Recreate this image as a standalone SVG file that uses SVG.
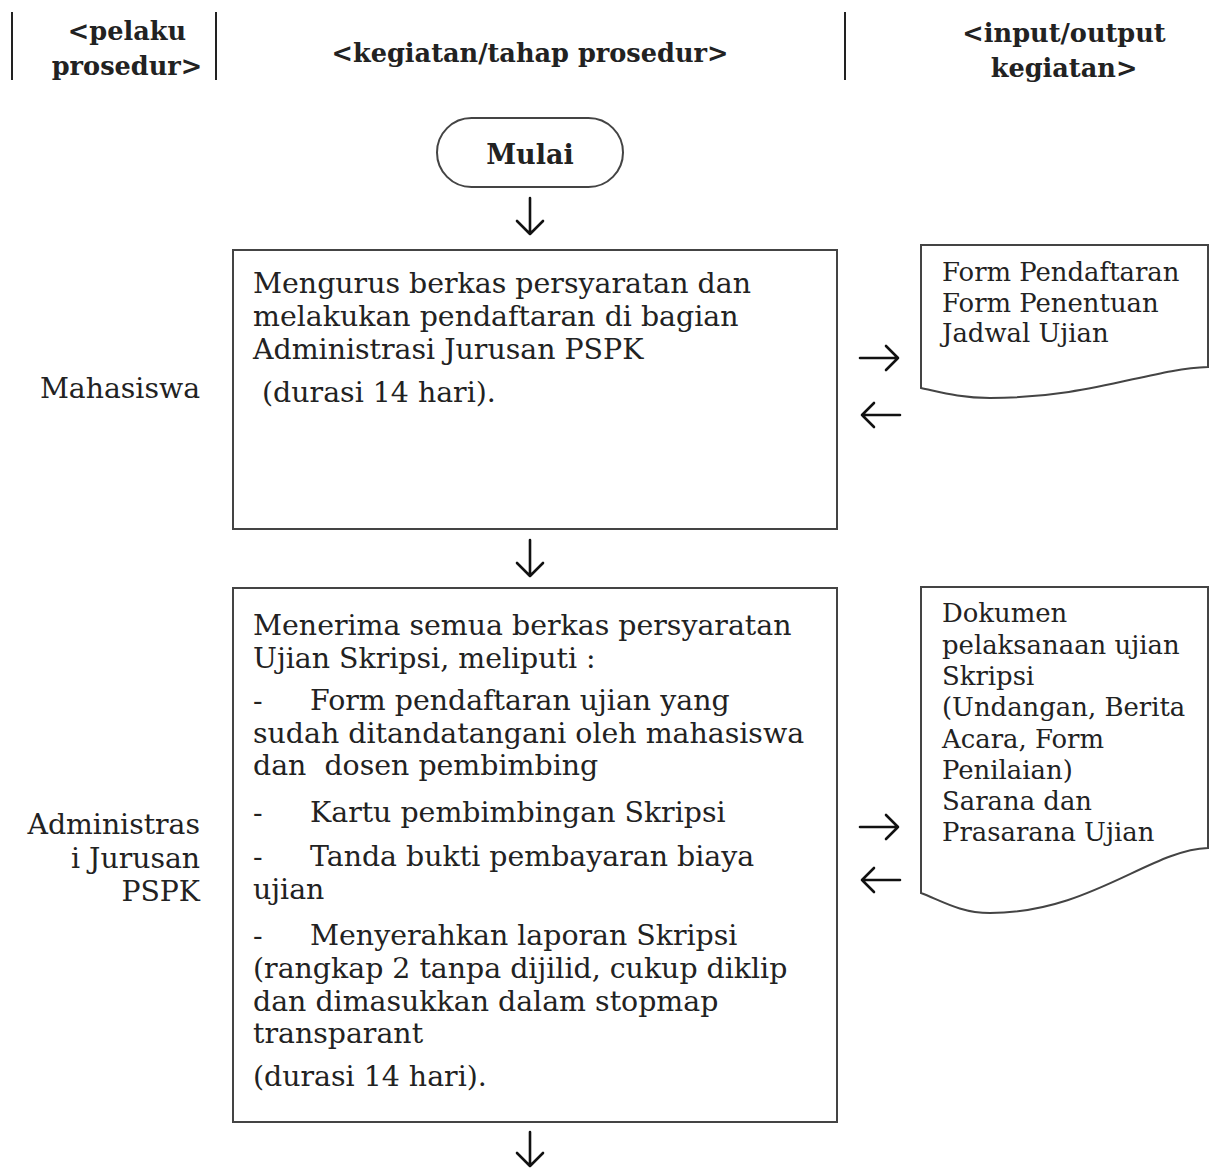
<svg xmlns="http://www.w3.org/2000/svg" width="1219" height="1169" viewBox="0 0 1219 1169">
<style>
text{font-family:"DejaVu Serif","Liberation Serif",serif;fill:#222;}
.hd{font-weight:bold;font-size:25.6px;}
.mu{font-weight:bold;font-size:27px;}
.tx{font-size:28.4px;white-space:pre;}
.dt{font-size:25.9px;}
.lb{font-size:28.3px;}
.box{fill:#fff;stroke:#444;stroke-width:2;}
.sep{stroke:#222;stroke-width:2;}
.arr{fill:none;stroke:#111;stroke-width:2.6;stroke-linecap:round;stroke-linejoin:round;}
</style>
<rect width="1219" height="1169" fill="#fff"/>
<g id="header">
<line class="sep" x1="12" y1="12" x2="12" y2="80"/>
<line class="sep" x1="216" y1="12" x2="216" y2="80"/>
<line class="sep" x1="845" y1="12" x2="845" y2="80"/>
<text class="hd" x="127" y="40" text-anchor="middle">&lt;pelaku</text>
<text class="hd" x="127" y="75" text-anchor="middle">prosedur&gt;</text>
<text class="hd" x="530" y="62" text-anchor="middle">&lt;kegiatan/tahap prosedur&gt;</text>
<text class="hd" x="1064" y="42" text-anchor="middle">&lt;input/output</text>
<text class="hd" x="1064" y="77" text-anchor="middle">kegiatan&gt;</text>
</g>
<g id="lanes">
<text class="lb" x="200" y="398" text-anchor="end">Mahasiswa</text>
<text class="lb" x="200" y="834" text-anchor="end">Administras</text>
<text class="lb" x="200" y="868" text-anchor="end">i Jurusan</text>
<text class="lb" x="200" y="901" text-anchor="end">PSPK</text>
</g>
<g id="mulai">
<rect class="box" x="437" y="118" width="186" height="69" rx="34.5"/>
<text class="mu" x="530" y="164" text-anchor="middle">Mulai</text>
</g>
<g id="step1">
<rect class="box" x="233" y="250" width="604" height="279"/>
<text class="tx" x="253" y="293">Mengurus berkas persyaratan dan</text>
<text class="tx" x="253" y="326">melakukan pendaftaran di bagian</text>
<text class="tx" x="253" y="359">Administrasi Jurusan PSPK</text>
<text class="tx" x="253" y="402"> (durasi 14 hari).</text>
</g>
<g id="doc1">
<path class="box" d="M921,245 H1208 V367 C1150,369 1090,398 990,398 C960,398 940,392 921,388 Z"/>
<text class="dt" x="942" y="281">Form Pendaftaran</text>
<text class="dt" x="942" y="312">Form Penentuan</text>
<text class="dt" x="942" y="342">Jadwal Ujian</text>
</g>
<g id="step2">
<rect class="box" x="233" y="588" width="604" height="534"/>
<text class="tx" x="253" y="635">Menerima semua berkas persyaratan</text>
<text class="tx" x="253" y="668">Ujian Skripsi, meliputi :</text>
<text class="tx" x="253" y="710">-</text><text class="tx" x="310" y="710">Form pendaftaran ujian yang</text>
<text class="tx" x="253" y="743">sudah ditandatangani oleh mahasiswa</text>
<text class="tx" x="253" y="775">dan  dosen pembimbing</text>
<text class="tx" x="253" y="822">-</text><text class="tx" x="310" y="822">Kartu pembimbingan Skripsi</text>
<text class="tx" x="253" y="866">-</text><text class="tx" x="310" y="866">Tanda bukti pembayaran biaya</text>
<text class="tx" x="253" y="899">ujian</text>
<text class="tx" x="253" y="945">-</text><text class="tx" x="310" y="945">Menyerahkan laporan Skripsi</text>
<text class="tx" x="253" y="978">(rangkap 2 tanpa dijilid, cukup diklip</text>
<text class="tx" x="253" y="1011">dan dimasukkan dalam stopmap</text>
<text class="tx" x="253" y="1043">transparant</text>
<text class="tx" x="253" y="1086">(durasi 14 hari).</text>
</g>
<g id="doc2">
<path class="box" d="M921,587 H1208 V848 C1150,850 1090,913 990,913 C960,913 940,900 921,893 Z"/>
<text class="dt" x="942" y="622">Dokumen</text>
<text class="dt" x="942" y="654">pelaksanaan ujian</text>
<text class="dt" x="942" y="685">Skripsi</text>
<text class="dt" x="942" y="716">(Undangan, Berita</text>
<text class="dt" x="942" y="748">Acara, Form</text>
<text class="dt" x="942" y="779">Penilaian)</text>
<text class="dt" x="942" y="810">Sarana dan</text>
<text class="dt" x="942" y="841">Prasarana Ujian</text>
</g>
<g id="connectors">
<path class="arr" d="M530,198 V234 M517,221 L530,234 L543,221"/>
<path class="arr" d="M530,540 V576 M517,563 L530,576 L543,563"/>
<path class="arr" d="M530,1132 V1166 M517,1153 L530,1166 L543,1153"/>
<path class="arr" d="M860,358 H898 M886,346 L898,358 L886,370"/>
<path class="arr" d="M900,415 H862 M874,403 L862,415 L874,427"/>
<path class="arr" d="M860,827 H898 M886,815 L898,827 L886,839"/>
<path class="arr" d="M900,880 H862 M874,868 L862,880 L874,892"/>
</g>
</svg>
